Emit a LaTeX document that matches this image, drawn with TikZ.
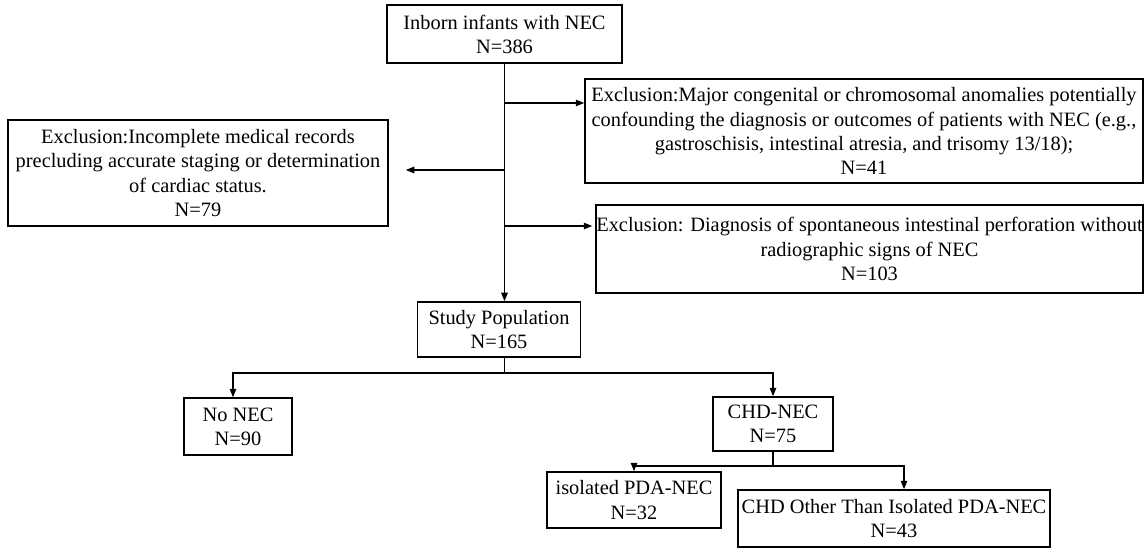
\documentclass[tikz,border=0pt]{standalone}
\usepackage{fontspec}
\setmainfont{Liberation Serif}
\usetikzlibrary{arrows.meta}
\tikzset{
  kasten/.style={draw, line width=0.85pt, align=center, inner sep=0pt, font=\fontsize{11.6}{13.7}\selectfont},
  linie/.style={line width=0.8pt},
  pfeil/.style={line width=0.8pt, -{Triangle[length=1.7mm,width=1.3mm]}}
}
\begin{document}
\begin{tikzpicture}
    \useasboundingbox (0mm,0mm) rectangle (229mm,110mm);
    \node[kasten, minimum width=47mm,    minimum height=11.6mm] (start)  at (100.9mm,103.2mm) {Inborn infants with NEC\\N=386};                                  % Start
    \node[kasten, minimum width=111.6mm, minimum height=20.8mm] (excla)  at (172.8mm,83.8mm)  {Exclusion:Major congenital or chromosomal anomalies potentially\\confounding the diagnosis or outcomes of patients with NEC (e.g.,\\gastroschisis, intestinal atresia, and trisomy 13/18);\\N=41}; % Ausschluss 1
    \node[kasten, minimum width=76mm,    minimum height=21.2mm] (exclb)  at (39.6mm,75.4mm)   {Exclusion:Incomplete medical records\\precluding accurate staging or determination\\of cardiac status.\\N=79}; % Ausschluss 2
    \node[kasten, minimum width=109.4mm, minimum height=17.6mm] (exclc)  at (173.9mm,60.2mm)  {Exclusion: Diagnosis of spontaneous intestinal perforation without\\radiographic signs of NEC\\N=103}; % Ausschluss 3
    \node[kasten, minimum width=32.6mm,  minimum height=11mm]   (study)  at (99.8mm,44.1mm)   {Study Population\\N=165};                                        % Studie
    \node[kasten, minimum width=21.6mm,  minimum height=11.4mm] (nonec)  at (47.6mm,24.7mm)   {No NEC\\N=90};                                                   % ohne
    \node[kasten, minimum width=24mm,    minimum height=10.8mm] (chdnec) at (154.6mm,25.2mm)  {CHD-NEC\\N=75};                                                  % CHD
    \node[kasten, minimum width=34.8mm,  minimum height=11.2mm] (pda)    at (126.8mm,10mm)    {isolated PDA-NEC\\N=32};                                         % PDA
    \node[kasten, minimum width=62.4mm,  minimum height=11.4mm] (other)  at (178.8mm,6.3mm)   {CHD Other Than Isolated PDA-NEC\\N=43};                          % andere
    \coordinate (ha) at (0mm,89.4mm);  % Hoehe Pfeil 1
    \coordinate (hb) at (0mm,76mm);    % Hoehe Pfeil 2
    \coordinate (hc) at (0mm,64.8mm);  % Hoehe Pfeil 3
    \coordinate (va) at (0mm,35.4mm);  % Verteiler Studie
    \coordinate (vb) at (0mm,16.8mm);  % Verteiler CHD
    \draw[pfeil] (start.south) -- (start.south |- study.north);                             % Hauptpfeil
    \draw[pfeil] (start.south |- ha) -- (excla.west |- ha);                                 % Pfeil 1
    \draw[pfeil, shorten >=3.4mm] (start.south |- hb) -- (exclb.east |- hb);                % Pfeil 2
    \draw[pfeil, shorten >=0.6mm] (start.south |- hc) -- (exclc.west |- hc);                % Pfeil 3
    \draw[linie] (start.south |- study.south) -- (start.south |- va);                       % Studie unten
    \draw[pfeil] (start.south |- va) -| ([xshift=-1mm]nonec.north);                         % links
    \draw[pfeil] (start.south |- va) -| (chdnec.north);                                     % rechts
    \draw[linie] (chdnec.south) -- (chdnec.south |- vb);                                    % CHD unten
    \draw[pfeil] (chdnec.south |- vb) -| (pda.north);                                       % PDA
    \draw[pfeil] (chdnec.south |- vb) -| ([xshift=2mm]other.north);                         % andere
\end{tikzpicture}
\end{document}
